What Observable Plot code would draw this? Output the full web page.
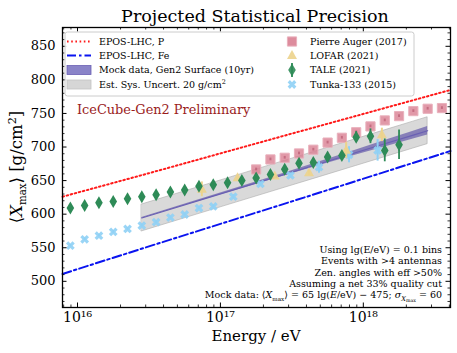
<!DOCTYPE html>
<html><head><meta charset="utf-8">
<script src="https://cdn.jsdelivr.net/npm/d3@7"></script>
<script src="https://cdn.jsdelivr.net/npm/@observablehq/plot@0.6"></script>
<style>body{margin:0;background:#fff}svg{display:block}</style>
</head><body><div id="chart"></div>
<script>
const FONT = "DejaVu Serif";
// ---- data (log10 energy in eV, <Xmax> in g/cm^2) ----
const eposLg = [15.895, 16.5, 17.5, 18.61];
const eposP  = [626, 661, 720, 785];
const eposFe = [511, 552, 619, 694];

const bandLg   = [16.45, 16.95, 17.45, 17.7, 17.95, 18.15, 18.35, 18.45];
const mockMean = [594.3, 626.8, 659.3, 675.5, 691.8, 704.8, 717.8, 724.3];
const mockStat = [0.8, 1.2, 2.0, 2.8, 3.8, 4.8, 5.8, 6.3];
const sysUnc   = 20;

const augerLg   = [17.25,17.35,17.45,17.55,17.65,17.75,17.85,17.95,18.05,18.15,18.25,18.35,18.45,18.55];
const augerXmax = [666.6,681.5,684,690.4,696,706.6,713.8,722,730.7,739.6,746,753.5,757,758];
const augerErr  = [2,2,2,2,2,2,2,2,2,2,2,2,2,2];

const lofarLg   = [16.87, 17.12, 17.38, 17.62, 17.88, 18.13];
const lofarXmax = [637, 654, 656.6, 661.6, 695, 718];
const lofarErr  = [11, 3, 3, 4, 12, 10];

const taleLg   = [15.95,16.05,16.15,16.25,16.35,16.45,16.55,16.65,16.75,16.85,16.95,17.05,17.15,17.25,17.35,17.45,17.55,17.65,17.75,17.85,17.95,18.05,18.15,18.25];
const taleXmax = [609,613,617,619,623,626,629,633,636,641.7,643.7,646.7,650,654,659,667,676,677,685,687.5,714.7,716,695,703.4];
const taleErr  = [2,2,2,2,2,2,2,2,2,2,2,2,2,2,2,3,4,4,4,5,8,11,17,22];

const tunkaLg   = [15.95,16.05,16.15,16.25,16.35,16.45,16.55,16.65,16.75,16.85,16.95,17.09,17.28,17.49,17.69,17.9,18.1];
const tunkaXmax = [553,562.5,568,573.5,578,583,588,595,599.5,609,611.5,626,645,657.6,670,688.5,695];
const tunkaErr  = [2,2,2,2,2,2,2,2,2,2,2,3,3,4,9,12,16];

const xDomainLg = [15.895, 18.61];
const yDomain = [461, 878];
const xTickExp = [16, 17, 18];
const yTicks = [500, 550, 600, 650, 700, 750, 800, 850];

// ---- helpers ----
const E = lg => Math.pow(10, lg);
const rows = (lgs, ys, errs) => lgs.map((lg, i) => ({e: E(lg), y: ys[i], err: errs ? errs[i] : 0}));
const epos = eposLg.map((lg, i) => ({e: E(lg), p: eposP[i], fe: eposFe[i]}));
const band = bandLg.map((lg, i) => ({e: E(lg), m: mockMean[i], s: mockStat[i]}));
const auger = rows(augerLg, augerXmax, augerErr);
const lofar = rows(lofarLg, lofarXmax, lofarErr);
const tale = rows(taleLg, taleXmax, taleErr);
const tunka = rows(tunkaLg, tunkaXmax, tunkaErr);

const supDigits = "⁰¹²³⁴⁵⁶⁷⁸⁹";
const sup = n => String(n).split("").map(c => supDigits[+c]).join("");

const xMinor = [];
for (const d of [15, 16, 17, 18]) for (let m = 2; m <= 9; m++) {
  const v = m * Math.pow(10, d);
  if (v > E(xDomainLg[0]) && v < E(xDomainLg[1])) xMinor.push(v);
}
const yMinor = d3.range(470, 880, 10).filter(v => v % 50 !== 0);
const xMajor = xTickExp.map(E);

// marker shapes
const thinDiamond = {draw(c) { c.moveTo(0, -6.5); c.lineTo(3.8, 0); c.lineTo(0, 6.5); c.lineTo(-3.8, 0); c.closePath(); }};
const squareSym = {draw(c) { c.rect(-4.6, -4.6, 9.2, 9.2); }};
const triSym = {draw(c) { c.moveTo(0, -5.6); c.lineTo(5, 3.4); c.lineTo(-5, 3.4); c.closePath(); }};
const xSym = {draw(c) {
  const L = 4.6, w = 1.6, s = Math.SQRT1_2;
  const pts = [[w,L],[w,w],[L,w],[L,-w],[w,-w],[w,-L],[-w,-L],[-w,-w],[-L,-w],[-L,w],[-w,w],[-w,L]]
    .map(([x, y]) => [(x - y) * s, (x + y) * s]);
  c.moveTo(pts[0][0], pts[0][1]); for (const p of pts.slice(1)) c.lineTo(p[0], p[1]); c.closePath();
}};

const C = {
  auger: "#d97f92", augerEdge: "#e9b0bc", augerDot: "#b85a70",
  lofar: "#ecd38c", tale: "#2e8b57", tunka: "#8fd0f5",
  gray: "#cfcfcf", grayEdge: "#ababab", purple: "#5a4ea6", purpleLine: "#6a60b3",
  red: "#ff1a1a", blue: "#0a14f0"
};

const W = 457, H = 353, mL = 62, mR = 7, mT = 27, mB = 46;
const fw = W - mL - mR, fh = H - mT - mB;

const plot = Plot.plot({
  width: W, height: H,
  marginLeft: mL, marginRight: mR, marginTop: mT, marginBottom: mB,
  style: {fontFamily: FONT, fontSize: "13px", background: "white", color: "black"},
  x: {type: "log", domain: xDomainLg.map(E)},
  y: {domain: yDomain},
  marks: [
    Plot.areaY(band, {x: "e", y1: d => d.m - sysUnc, y2: d => d.m + sysUnc, fill: C.gray, fillOpacity: 0.8, stroke: C.grayEdge, strokeWidth: 0.6}),
    Plot.areaY(band, {x: "e", y1: d => d.m - d.s, y2: d => d.m + d.s, fill: C.purple, fillOpacity: 0.65}),
    Plot.lineY(band, {x: "e", y: "m", stroke: C.purpleLine, strokeWidth: 1.2}),
    Plot.lineY(epos, {x: "e", y: "p", stroke: C.red, strokeWidth: 2, strokeDasharray: "1.6,2.6"}),
    Plot.lineY(epos, {x: "e", y: "fe", stroke: C.blue, strokeWidth: 2, strokeDasharray: "9,3,2.5,3"}),
    Plot.dot(auger, {x: "e", y: "y", symbol: squareSym, fill: C.auger, fillOpacity: 0.8, stroke: C.augerEdge, strokeWidth: 1}),
    Plot.ruleX(auger, {x: "e", y1: d => d.y - d.err, y2: d => d.y + d.err, stroke: C.augerDot, strokeWidth: 2, strokeOpacity: 0.7}),
    Plot.ruleX(tunka, {x: "e", y1: d => d.y - d.err, y2: d => d.y + d.err, stroke: C.tunka, strokeWidth: 2}),
    Plot.dot(tunka, {x: "e", y: "y", symbol: xSym, fill: C.tunka, fillOpacity: 0.9}),
    Plot.ruleX(lofar, {x: "e", y1: d => d.y - d.err, y2: d => d.y + d.err, stroke: C.lofar, strokeWidth: 2}),
    Plot.dot(lofar, {x: "e", y: "y", symbol: triSym, fill: C.lofar, fillOpacity: 0.9}),
    Plot.ruleX(tale, {x: "e", y1: d => d.y - d.err, y2: d => d.y + d.err, stroke: C.tale, strokeWidth: 1.8}),
    Plot.dot(tale, {x: "e", y: "y", symbol: thinDiamond, fill: C.tale}),
    Plot.tickX(xMajor, {x: d => d, insetTop: fh - 4.5, stroke: "black", strokeWidth: 1}),
    Plot.tickX(xMajor, {x: d => d, insetBottom: fh - 4.5, stroke: "black", strokeWidth: 1}),
    Plot.tickX(xMinor, {x: d => d, insetTop: fh - 2.5, stroke: "black", strokeWidth: 0.8}),
    Plot.tickX(xMinor, {x: d => d, insetBottom: fh - 2.5, stroke: "black", strokeWidth: 0.8}),
    Plot.tickY(yTicks, {y: d => d, insetRight: fw - 4.5, stroke: "black", strokeWidth: 1}),
    Plot.tickY(yTicks, {y: d => d, insetLeft: fw - 4.5, stroke: "black", strokeWidth: 1}),
    Plot.tickY(yMinor, {y: d => d, insetRight: fw - 2.5, stroke: "black", strokeWidth: 0.8}),
    Plot.tickY(yMinor, {y: d => d, insetLeft: fw - 2.5, stroke: "black", strokeWidth: 0.8}),
    Plot.axisX(xMajor, {tickSize: 0, tickPadding: 5, tickFormat: d => "10" + sup(Math.round(Math.log10(d))), label: null, fontSize: 14}),
    Plot.axisY(yTicks, {tickSize: 0, tickPadding: 7, label: null, fontSize: 13}),
    Plot.frame({stroke: "black", strokeWidth: 1.3})
  ]
});
document.getElementById("chart").appendChild(plot);

// ---- text and legend ----
const svg = d3.select(plot);
function rich(x, y, size, anchor, parts, opts = {}) {
  const t = svg.append("text").attr("x", x).attr("y", y).attr("font-family", FONT)
    .attr("font-size", size).attr("text-anchor", anchor).attr("fill", opts.fill || "black");
  if (opts.rotate) t.attr("transform", `rotate(${opts.rotate},${x},${y})`);
  let shift = 0;
  for (const p of parts) {
    if (typeof p === "string") { t.append("tspan").attr("dy", -shift).text(p); shift = 0; continue; }
    const target = p.sub ? size * (p.subsub ? 0.4 : 0.25) : p.sup ? -size * 0.38 : 0;
    const s = t.append("tspan").attr("dy", target - shift).text(p.t);
    shift = target;
    if (p.sub || p.sup) s.attr("font-size", size * (p.scale || 0.68));
    if (p.it) s.attr("font-style", "italic");
  }
  return t;
}
rich(255, 21.5, 17.5, "middle", ["Projected Statistical Precision"]);
rich(256, 341, 15, "middle", ["Energy / eV"]);
rich(22, 167, 16.5, "middle", ["⟨", {t: "X", it: true}, {t: "max", sub: true, scale: 0.62}, "⟩ [g/cm", {t: "2", sup: true}, "]"], {rotate: -90});
rich(77, 114, 12.9, "start", ["IceCube-Gen2 Preliminary"], {fill: "#9a1c1c"});
const notes = ["Using lg(E/eV) = 0.1 bins", "Events with >4 antennas", "Zen. angles with eff >50%", "Assuming a net 33% quality cut"];
notes.forEach((n, i) => rich(442, 253 + i * 11.3, 9.5, "end", [n]));
rich(442, 298.4, 9.5, "end", ["Mock data: ⟨", {t: "X", it: true}, {t: "max", sub: true, scale: 0.6}, "⟩ = 65 lg(", {t: "E", it: true}, "/eV) − 475; ", {t: "σ", it: true}, {t: "X", it: true, sub: true, scale: 0.7}, {t: "max", sub: true, subsub: true, scale: 0.5}, " = 60"]);

const lg = svg.append("g");
lg.append("rect").attr("x", 65).attr("y", 32).attr("width", 349).attr("height", 64).attr("rx", 2.5)
  .attr("fill", "white").attr("fill-opacity", 0.85).attr("stroke", "#cccccc").attr("stroke-width", 1);
const rowsY = [41.5, 55.5, 70, 84.5];
const col1 = [
  {label: ["EPOS-LHC, P"], kind: "line", stroke: C.red, dash: "1.6,2.6"},
  {label: ["EPOS-LHC, Fe"], kind: "line", stroke: C.blue, dash: "9,3,2.5,3"},
  {label: ["Mock data, Gen2 Surface (10yr)"], kind: "patch", fill: "#8a84c8", stroke: "#6a60b3"},
  {label: ["Est. Sys. Uncert. 20 g/cm", {t: "2", sup: true}], kind: "patch", fill: "#d6d6d6", stroke: "#c4c4c4"}
];
col1.forEach((it, i) => {
  const y = rowsY[i];
  if (it.kind === "line") lg.append("line").attr("x1", 67).attr("x2", 91).attr("y1", y).attr("y2", y)
    .attr("stroke", it.stroke).attr("stroke-width", 2).attr("stroke-dasharray", it.dash);
  else lg.append("rect").attr("x", 67).attr("y", y - 4.5).attr("width", 24).attr("height", 9)
    .attr("fill", it.fill).attr("stroke", it.stroke).attr("stroke-width", 0.8);
  rich(99, y + 3.4, 9.5, "start", it.label);
});
const col2 = [
  {label: "Pierre Auger (2017)", sym: d3.symbol(squareSym)(), fill: C.auger, stroke: C.augerEdge},
  {label: "LOFAR (2021)", sym: d3.symbol(triSym)(), fill: C.lofar},
  {label: "TALE (2021)", sym: d3.symbol(thinDiamond)(), fill: C.tale, bar: true},
  {label: "Tunka-133 (2015)", sym: d3.symbol(xSym)(), fill: C.tunka}
];
col2.forEach((it, i) => {
  const y = rowsY[i];
  if (it.bar) lg.append("line").attr("x1", 292).attr("x2", 292).attr("y1", y - 7).attr("y2", y + 7).attr("stroke", it.fill).attr("stroke-width", 1.8);
  lg.append("path").attr("d", it.sym).attr("transform", `translate(292,${y})`).attr("fill", it.fill)
    .attr("stroke", it.stroke || "none").attr("fill-opacity", 0.9);
  rich(310, y + 3.4, 9.5, "start", [it.label]);
});
</script>
</body></html>
